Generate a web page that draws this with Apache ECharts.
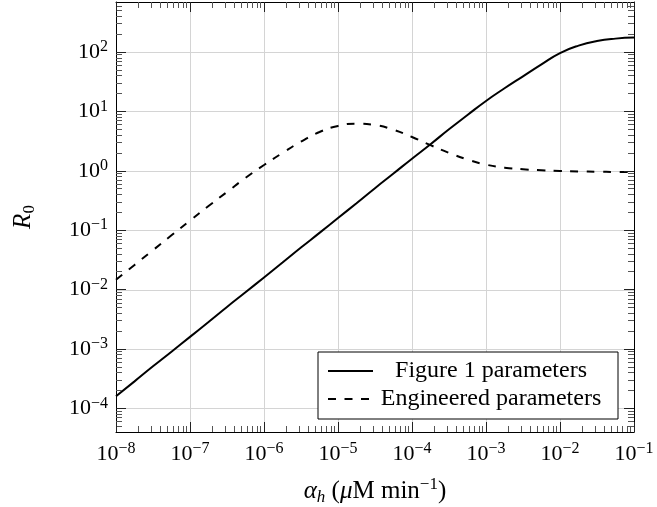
<!DOCTYPE html>
<html>
<head>
<meta charset="utf-8">
<script src="https://cdn.jsdelivr.net/npm/echarts@6/dist/echarts.min.js"></script>
<style>html,body{margin:0;padding:0;background:#fff;}#c{width:657px;height:507px;}</style>
</head>
<body>
<div id="c"></div>
<script>
// alpha_h values (µM/min), sampled every quarter decade
const alphaH = [1e-8, 1.78e-8, 3.16e-8, 5.62e-8, 1e-7, 1.78e-7, 3.16e-7, 5.62e-7,
  1e-6, 1.78e-6, 3.16e-6, 5.62e-6, 1e-5, 1.78e-5, 3.16e-5, 5.62e-5,
  1e-4, 1.78e-4, 3.16e-4, 5.62e-4, 1e-3, 1.78e-3, 3.16e-3, 5.62e-3,
  1e-2, 1.78e-2, 3.16e-2, 5.62e-2, 1e-1];
// R0 with Figure 1 parameters (solid)
const r0Figure1 = [1.6e-4, 2.85e-4, 5.1e-4, 9.0e-4, 1.6e-3, 2.85e-3, 5.1e-3, 9.0e-3,
  1.6e-2, 2.85e-2, 5.1e-2, 9.0e-2, 0.16, 0.285, 0.51, 0.9,
  1.6, 2.8, 5.0, 8.7, 15, 24.5, 39, 62,
  96, 128, 153, 168, 175];
// R0 with engineered parameters (dashed)
const r0Engineered = [0.0146, 0.026, 0.046, 0.082, 0.145, 0.255, 0.44, 0.76,
  1.25, 2.0, 3.1, 4.5, 5.7, 6.2, 5.9, 4.9,
  3.7, 2.7, 2.0, 1.55, 1.27, 1.13, 1.06, 1.02,
  0.99, 0.975, 0.965, 0.955, 0.95];
const seriesNames = ['Figure 1 parameters', 'Engineered parameters'];
const xTicks = [1e-8, 1e-7, 1e-6, 1e-5, 1e-4, 1e-3, 1e-2, 1e-1];
const yTicks = [1e-4, 1e-3, 1e-2, 1e-1, 1e0, 1e1, 1e2];
const xMin = 1e-8, xMax = 1e-1, yMin = 4e-5, yMax = 695;

function minorTicks(lo, hi) {
  const out = [];
  for (let e = -10; e <= 4; e++) {
    for (let m = 2; m <= 9; m++) {
      const v = m * Math.pow(10, e);
      if (v > lo * 1.0001 && v < hi * 0.9999) out.push(v);
    }
  }
  return out;
}
const xMinor = minorTicks(xMin, xMax);
const yMinor = minorTicks(yMin, yMax);

const FONT = 'Liberation Serif';
function sci(v) {
  const e = Math.round(Math.log10(v));
  return '{b|10}{s|' + (e < 0 ? '\u2212' : '') + Math.abs(e) + '}';
}
const tickRich = {
  b: {fontFamily: FONT, fontSize: 22, lineHeight: 26, color: '#000'},
  s: {fontFamily: FONT, fontSize: 16, lineHeight: 14, verticalAlign: 'top', color: '#000'}
};

function mkAxis(type, pos, major, opts) {
  const isX = type === 'x';
  const a = {
    type: 'log', logBase: 10, z: 5,
    min: isX ? xMin : yMin, max: isX ? xMax : yMax,
    position: pos,
    axisLine: {show: major && opts.line, lineStyle: {color: '#000', width: 1}},
    axisTick: {show: true, inside: true, length: major ? 10 : 6,
      customValues: major ? (isX ? xTicks : yTicks) : (isX ? xMinor : yMinor),
      lineStyle: {color: major ? '#222' : '#555', width: 1}},
    axisLabel: {show: false},
    splitLine: {show: false},
    minorTick: {show: false},
    minorSplitLine: {show: false},
    silent: true
  };
  if (opts.label) {
    a.axisLabel = {show: true, customValues: isX ? xTicks : yTicks, interval: 0,
      margin: isX ? 9 : 8, formatter: sci, rich: tickRich, color: '#000',
      showMinLabel: true, showMaxLabel: true};
  }
  return a;
}

const nameRich = {
  n: {fontFamily: FONT, fontSize: 25, lineHeight: 30, color: '#000'},
  i: {fontFamily: FONT, fontStyle: 'italic', fontSize: 25, lineHeight: 30, color: '#000'},
  s: {fontFamily: FONT, fontSize: 17, lineHeight: 18, verticalAlign: 'top', color: '#000'},
  sub: {fontFamily: FONT, fontStyle: 'italic', fontSize: 17, lineHeight: 20, verticalAlign: 'bottom', color: '#000'},
  sub0: {fontFamily: FONT, fontSize: 17, lineHeight: 20, verticalAlign: 'bottom', color: '#000'}
};

const xAxes = [
  Object.assign(mkAxis('x', 'bottom', true, {line: true, label: true}), {
    name: '{i|\u03b1}{sub|h}{n| (}{i|\u03bc}{n|M min}{s|\u22121}{n|)}',
    nameLocation: 'middle', nameGap: 44,
    nameTextStyle: {rich: nameRich}
  }),
  mkAxis('x', 'bottom', false, {}),
  mkAxis('x', 'top', true, {line: true}),
  mkAxis('x', 'top', false, {})
];
const yAxes = [
  Object.assign(mkAxis('y', 'left', true, {line: true, label: true}), {
    name: '{i|R}{sub0|0}',
    nameLocation: 'middle', nameGap: 78,
    nameTextStyle: {rich: nameRich}
  }),
  mkAxis('y', 'left', false, {}),
  mkAxis('y', 'right', true, {line: true}),
  mkAxis('y', 'right', false, {})
];

const GRID_COLOR = '#d4d4d4';
const chart = echarts.init(document.getElementById('c'), null, {renderer: 'canvas'});
chart.setOption({
  animation: false,
  backgroundColor: '#fff',
  grid: {left: 116, top: 2, width: 518, height: 430, show: false,
    containLabel: false, outerBoundsMode: 'none'},
  xAxis: xAxes,
  yAxis: yAxes,
  legend: {
    data: seriesNames,
    orient: 'vertical',
    left: 318, top: 352,
    itemWidth: 45, itemHeight: 26, itemGap: 4,
    padding: [7, 14, 8, 9],
    backgroundColor: '#fff',
    borderColor: '#000', borderWidth: 1,
    selectedMode: false,
    itemStyle: {opacity: 0},
    formatter: name => '{c|' + name + '}',
    textStyle: {rich: {c: {width: 226, align: 'center', fontFamily: FONT, fontSize: 24, lineHeight: 26, color: '#000'}}}
  },
  series: [
    {
      type: 'custom', z: 1, silent: true,
      data: xTicks.slice(1, -1).map(v => [v, 1]),
      renderItem: (params, api) => {
        const cs = params.coordSys;
        const p = api.coord([api.value(0), 1]);
        const x = Math.round(p[0]) + 0.5;
        return {type: 'line', shape: {x1: x, y1: cs.y, x2: x, y2: cs.y + cs.height},
          style: {stroke: GRID_COLOR, lineWidth: 1}};
      }
    },
    {
      type: 'custom', z: 1, silent: true,
      data: yTicks.map(v => [1e-5, v]),
      renderItem: (params, api) => {
        const cs = params.coordSys;
        const p = api.coord([1e-5, api.value(1)]);
        const y = Math.round(p[1]) + 0.5;
        return {type: 'line', shape: {x1: cs.x, y1: y, x2: cs.x + cs.width, y2: y},
          style: {stroke: GRID_COLOR, lineWidth: 1}};
      }
    },
    {
      name: seriesNames[0], type: 'line', z: 3,
      data: alphaH.map((x, i) => [x, r0Figure1[i]]),
      showSymbol: false, symbol: 'none', smooth: 0.5,
      lineStyle: {color: '#000', width: 2},
      itemStyle: {color: '#000'}
    },
    {
      name: seriesNames[1], type: 'line', z: 3,
      data: alphaH.map((x, i) => [x, r0Engineered[i]]),
      showSymbol: false, symbol: 'none', smooth: 0.5,
      lineStyle: {color: '#000', width: 2, type: [8, 8.5]},
      itemStyle: {color: '#000'}
    }
  ]
});
</script>
</body>
</html>
